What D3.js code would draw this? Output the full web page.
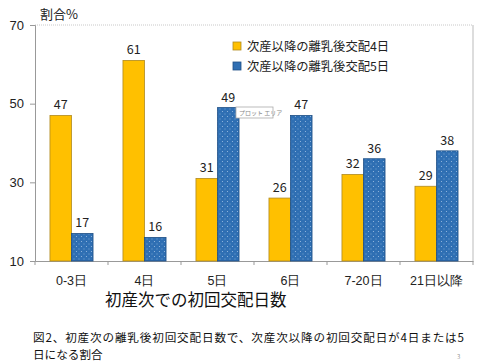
<!DOCTYPE html>
<html>
<head>
<meta charset="utf-8">
<script src="https://cdn.jsdelivr.net/npm/d3@7"></script>
<style>
body { margin: 0; background: #fff; }
svg { font-family: "Noto Sans CJK JP", "Noto Sans", sans-serif; }
</style>
</head>
<body>
<script>
const categories = ['0-3日', '4日', '5日', '6日', '7-20日', '21日以降'];
const series4 = [47, 61, 31, 26, 32, 29];
const series5 = [17, 16, 49, 47, 36, 38];
const seriesNames = ['次産以降の離乳後交配4日', '次産以降の離乳後交配5日'];
const yTicks = [10, 30, 50, 70];

const width = 492;
const height = 363;
const plotLeft = 35, plotRight = 473, plotTop = 25, plotBottom = 261;

const svg = d3.select('body').append('svg').attr('width', width).attr('height', height);

const defs = svg.append('defs');
const pat = defs.append('pattern').attr('id', 'dots').attr('patternUnits', 'userSpaceOnUse')
	.attr('width', 5).attr('height', 5);
pat.append('rect').attr('width', 5).attr('height', 5).attr('fill', '#2f6fb3');
pat.append('rect').attr('x', 1).attr('y', 1).attr('width', 1).attr('height', 1).attr('fill', '#8fb4dc');
pat.append('rect').attr('x', 3.5).attr('y', 3.5).attr('width', 1).attr('height', 1).attr('fill', '#7aa6d4');

const x0 = d3.scaleBand().domain(categories).range([plotLeft, plotRight]).paddingInner(0.41).paddingOuter(0.205);
const x1 = d3.scaleBand().domain([0, 1]).range([0, x0.bandwidth()]);
const xCat = d3.scaleBand().domain(categories).range([plotLeft, plotRight]);
const y = d3.scaleLinear().domain([10, 70]).range([plotBottom, plotTop]);

// plot frame (top dotted, right solid)
svg.append('path')
	.attr('d', `M${plotLeft},${plotTop}H${plotRight}`)
	.attr('fill', 'none').attr('stroke', '#c8c8c8').attr('stroke-dasharray', '1,1');
svg.append('path')
	.attr('d', `M${plotRight},${plotTop}V${plotBottom}`)
	.attr('fill', 'none').attr('stroke', '#bbb');

const yAxis = svg.append('g').attr('transform', `translate(${plotLeft},0)`)
	.call(d3.axisLeft(y).tickValues(yTicks).tickSize(5).tickPadding(6));
yAxis.select('.domain').attr('stroke', '#999');
yAxis.selectAll('line').attr('stroke', '#999');
yAxis.selectAll('text').attr('font-size', 13).attr('fill', '#222');

const xAxis = svg.append('g').attr('transform', `translate(0,${plotBottom})`)
	.call(d3.axisBottom(xCat).tickSize(0).tickPadding(15));
xAxis.select('.domain').attr('stroke', '#999');
xAxis.selectAll('text').attr('font-size', 12.5).attr('fill', '#222');
xAxis.selectAll('.tick-mark').data(categories.concat(['end'])).enter().append('line')
	.attr('x1', (d) => d === 'end' ? plotRight : xCat(d)).attr('x2', (d) => d === 'end' ? plotRight : xCat(d))
	.attr('y1', 0).attr('y2', 4).attr('stroke', '#999');

const data = categories.map((c, i) => ({ c, v: [series4[i], series5[i]] }));

const groups = svg.selectAll('.grp').data(data).enter().append('g')
	.attr('transform', (d) => `translate(${x0(d.c)},0)`);

groups.selectAll('rect').data((d) => d.v.map((v, k) => ({ v, k }))).enter().append('rect')
	.attr('x', (d) => x1(d.k))
	.attr('y', (d) => y(d.v))
	.attr('width', x1.bandwidth())
	.attr('height', (d) => plotBottom - y(d.v))
	.attr('fill', (d) => d.k === 0 ? '#ffc000' : 'url(#dots)')
	.attr('stroke', (d) => d.k === 0 ? '#b08a20' : '#1f4f85')
	.attr('stroke-width', 0.8);

groups.selectAll('.lbl').data((d) => d.v.map((v, k) => ({ v, k }))).enter().append('text')
	.attr('x', (d) => x1(d.k) + x1.bandwidth() / 2)
	.attr('y', (d) => y(d.v) - 6)
	.attr('text-anchor', 'middle').attr('font-size', 12.5).attr('fill', '#222')
	.text((d) => d.v);

// legend
const legend = svg.append('g').attr('transform', 'translate(233,42)');
seriesNames.forEach((n, i) => {
	legend.append('rect').attr('x', 0).attr('y', i * 20).attr('width', 8).attr('height', 8)
		.attr('fill', i === 0 ? '#ffc000' : '#2f6fb3').attr('stroke', i === 0 ? '#b08a20' : '#1f4f85').attr('stroke-width', 0.8);
	legend.append('text').attr('x', 14).attr('y', i * 20 + 9).attr('font-size', 12.3).attr('fill', '#222').text(n);
});

// tooltip label
const tip = svg.append('g').attr('transform', 'translate(236,107)');
tip.append('rect').attr('width', 37).attr('height', 11).attr('fill', '#fff').attr('stroke', '#aaa').attr('stroke-width', 0.8);
tip.append('text').attr('x', 3).attr('y', 8).attr('font-size', 6).attr('fill', '#888').text('プロット エリア');

// titles
svg.append('text').attr('x', 40).attr('y', 19).attr('font-size', 13).attr('fill', '#222').text('割合%');
svg.append('text').attr('x', 105).attr('y', 306).attr('font-size', 16.5).attr('fill', '#111').text('初産次での初回交配日数');
svg.append('text').attr('x', 33).attr('y', 342).attr('font-size', 11.6).attr('fill', '#111')
	.attr('textLength', 431).attr('lengthAdjust', 'spacing')
	.text('図2、初産次の離乳後初回交配日数で、次産次以降の初回交配日が4日または5');
svg.append('text').attr('x', 33).attr('y', 359).attr('font-size', 11.6).attr('fill', '#111').text('日になる割合');
svg.append('text').attr('x', 457).attr('y', 359).attr('font-size', 6).attr('fill', '#999').text('3');
</script>
</body>
</html>
